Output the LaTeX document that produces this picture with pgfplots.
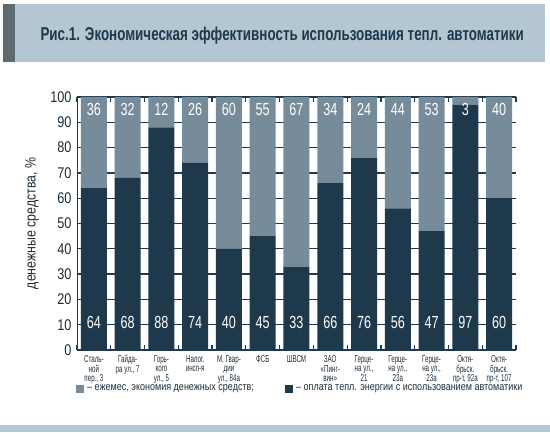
\documentclass[border=0pt]{standalone}
\usepackage{fontspec}
\setmainfont[FakeStretch=0.82]{Liberation Sans}
\newfontfamily\titlefont[FakeStretch=0.72]{Liberation Sans}
\newfontfamily\narrowfont[FakeStretch=0.62]{Liberation Sans}
\usepackage{pgfplots}
\pgfplotsset{compat=1.18}
\usepackage{pgfplotstable}

\definecolor{barDark}{HTML}{1E394B}
\definecolor{barLight}{HTML}{778C9A}
\definecolor{banner}{HTML}{B4C6D2}
\definecolor{stripe}{HTML}{5E6A70}
\definecolor{textDark}{HTML}{1C2C38}

% x, dark = paid with automatics, light = monthly saving, label rows
\pgfplotstableread{
x dark light top bot
0  64 36 95 11
1  68 32 95 11
2  88 12 95 11
3  74 26 95 11
4  40 60 95 11
5  45 55 95 11
6  33 67 95 11
7  66 34 95 11
8  76 24 95 11
9  56 44 95 11
10 47 53 95 11
11 97  3 95 11
12 60 40 95 11
}\shares

\pgfplotsset{
  common/.style={
    scale only axis,
    width=439pt, height=253pt,
    at={(77pt,87pt)}, anchor=south west,
    xmin=-0.5, xmax=12.5,
    ymin=0, ymax=100,
  },
}

\begin{document}
\begin{tikzpicture}
\path[use as bounding box] (0,0) rectangle (550pt,437pt);
% title banner
\fill[banner] (3pt,375pt) rectangle (545pt,433pt);
\fill[stripe] (3pt,375pt) rectangle (15pt,433pt);
\node[anchor=west, text=barDark, font=\titlefont\bfseries\fontsize{18.6}{20}\selectfont]
  at (37pt,401pt) {Рис.1. Экономическая эффективность использования тепл. автоматики};
% bottom banner
\fill[banner] (0pt,5pt) rectangle (550pt,12pt);

\begin{axis}[
    common,
    ybar stacked,
    bar width=26pt,
    ytick={0,10,...,100},
    xtick=data,
    major x tick style={draw=none},
    minor xtick={-0.5,0.5,...,12.5},
    minor tick length=5pt,
    minor x tick style={barDark, line width=1.2pt},
    ymajorgrids,
    grid style={barDark, line width=1.3pt},
    major y tick style={draw=none},
    axis line style={draw=none},
    /pgf/number format/assume math mode=true,
    yticklabel style={font=\fontsize{15.5}{15.5}\selectfont, text=textDark, xshift=-2pt},
    xticklabel style={font=\narrowfont\fontsize{10}{9.5}\selectfont, text=textDark, align=center, anchor=north, yshift=-2pt},
    xticklabels={
      {Сталь-\\ной\\пер., 3},
      {Гайда-\\ра ул., 7},
      {Горь-\\кого\\ул., 5},
      {Налог.\\инсп-я},
      {М. Гвар-\\дии\\ул., 84а},
      {ФСБ},
      {ШВСМ},
      {ЗАО\\«Пинг-\\вин»},
      {Герце-\\на ул.,\\21},
      {Герце-\\на ул.,\\23а},
      {Герце-\\на ул.,\\23а},
      {Октя-\\брьск.\\пр-т, 92а},
      {Октя-\\брьск.\\пр-т, 107}
    },
    ylabel={денежные средства, \%},
    every axis y label/.style={at={(rel axis cs:0,0.5)}, rotate=90, anchor=center,
      yshift=45pt, font=\fontsize{15}{15}\selectfont, text=textDark},
]
\addplot[fill=barDark, draw=none] table[x=x, y=dark] {\shares};
\addplot[fill=barLight, draw=none] table[x=x, y=light] {\shares};
\draw[barDark, line width=1.3pt] (rel axis cs:0,1) -- (rel axis cs:1,1);
\draw[barDark, line width=1.5pt] (rel axis cs:0,0) -- (rel axis cs:1,0);
\draw[barDark, line width=0.8pt] (rel axis cs:0,0) -- (rel axis cs:0,1);
\end{axis}

% value labels
\begin{axis}[common, hide axis]
\addplot[draw=none, mark=none, nodes near coords, point meta=explicit symbolic,
  every node near coord/.style={anchor=center, text=white, font=\titlefont\fontsize{17.5}{17.5}\selectfont}]
  table[x=x, y=top, meta=light] {\shares};
\addplot[draw=none, mark=none, nodes near coords, point meta=explicit symbolic,
  every node near coord/.style={anchor=center, text=white, font=\titlefont\fontsize{17.5}{17.5}\selectfont}]
  table[x=x, y=bot, meta=dark] {\shares};
\end{axis}

% legend
\fill[barLight] (76pt,44pt) rectangle (84pt,52pt);
\node[anchor=west, inner sep=0pt, text=textDark, font=\fontsize{11}{12}\selectfont]
  at (87pt,48pt) {– ежемес, экономия денежных средств;};
\fill[barDark] (285pt,44pt) rectangle (293pt,52pt);
\node[anchor=west, inner sep=0pt, text=textDark, font=\fontsize{11}{12}\selectfont]
  at (296pt,48pt) {– оплата тепл. энергии с использованием автоматики};
\end{tikzpicture}
\end{document}
